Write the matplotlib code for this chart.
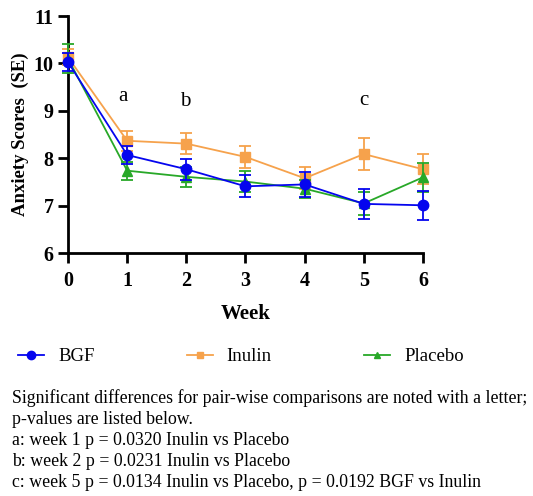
import matplotlib
matplotlib.use("Agg")
import matplotlib.pyplot as plt
from matplotlib.lines import Line2D

# data
weeks = [0, 1, 2, 3, 4, 5, 6]

bgf = [10.03, 8.07, 7.77, 7.41, 7.45, 7.04, 7.01]
bgf_se = [0.18, 0.19, 0.22, 0.23, 0.26, 0.31, 0.31]

inulin = [10.13, 8.37, 8.31, 8.03, 7.58, 8.09, 7.77]
inulin_se = [0.17, 0.21, 0.22, 0.23, 0.23, 0.33, 0.32]

placebo = [10.10, 7.74, 7.61, 7.51, 7.36, 7.05, 7.60]
placebo_se = [0.30, 0.19, 0.21, 0.22, 0.19, 0.25, 0.30]

letters = ["a", "b", "c"]
letter_x = [0.93, 1.98, 5.0]
letter_y = [9.3, 9.2, 9.22]

notes = ["Significant differences for pair-wise comparisons are noted with a letter;",
         "p-values are listed below.",
         "a: week 1 p = 0.0320 Inulin vs Placebo",
         "b: week 2 p = 0.0231 Inulin vs Placebo",
         "c: week 5 p = 0.0134 Inulin vs Placebo, p = 0.0192 BGF vs Inulin"]

SERIF = ["Liberation Serif", "DejaVu Serif"]
plt.rcParams['font.family'] = SERIF

fig = plt.figure(figsize=(5.33, 4.96), dpi=100)
ax = fig.add_axes([0.1276, 0.4895, 0.666, 0.4782])

# name, values, se, colour, marker, size, zorder
series = [("BGF", bgf, bgf_se, "#0505ee", "o", 7.5, 5),
          ("Inulin", inulin, inulin_se, "#f6a24c", "s", 6.5, 3),
          ("Placebo", placebo, placebo_se, "#28a828", "^", 6.5, 4)]

handles = []
for name, vals, se, col, mk, ms, z in series:
    ax.errorbar(weeks, vals, yerr=se, color=col, marker=mk, ms=ms,
                lw=1.3, elinewidth=1.3, capsize=4, capthick=1.3,
                clip_on=False, zorder=z)
    handles.append(Line2D([], [], color=col, marker=mk, ms=ms - 1.5,
                          lw=1.3, label=name))

for t, x, y in zip(letters, letter_x, letter_y):
    ax.text(x, y, t, fontsize=15, ha="center", va="center")

ax.set_xlim(0, 6)
ax.set_ylim(6, 11)
ax.set_xticks(weeks)
ax.set_yticks([6, 7, 8, 9, 10, 11])
for s in ["top", "right"]:
    ax.spines[s].set_visible(False)
for s in ["left", "bottom"]:
    ax.spines[s].set_linewidth(2)
ax.tick_params(width=2, length=7, labelsize=14.5)
ax.tick_params(axis="x", pad=6)
for lab in ax.get_xticklabels() + ax.get_yticklabels():
    lab.set_fontweight("bold")
ax.set_xlabel("Week", fontsize=15, fontweight="bold", labelpad=9)
ax.set_ylabel("Anxiety Scores  (SE)", fontsize=13.5, fontweight="bold", labelpad=3)

fig.legend(handles=handles, loc="center left", bbox_to_anchor=(0.002, 0.281),
           ncol=3, frameon=False, fontsize=13.5, handlelength=1.4,
           columnspacing=4.9, handletextpad=0.75)

y0 = 1 - 403 / 496
for i, line in enumerate(notes):
    fig.text(0.022, y0 - i * 0.0423, line, fontsize=12.8, va="baseline")

fig.savefig("out.png", dpi=100)
